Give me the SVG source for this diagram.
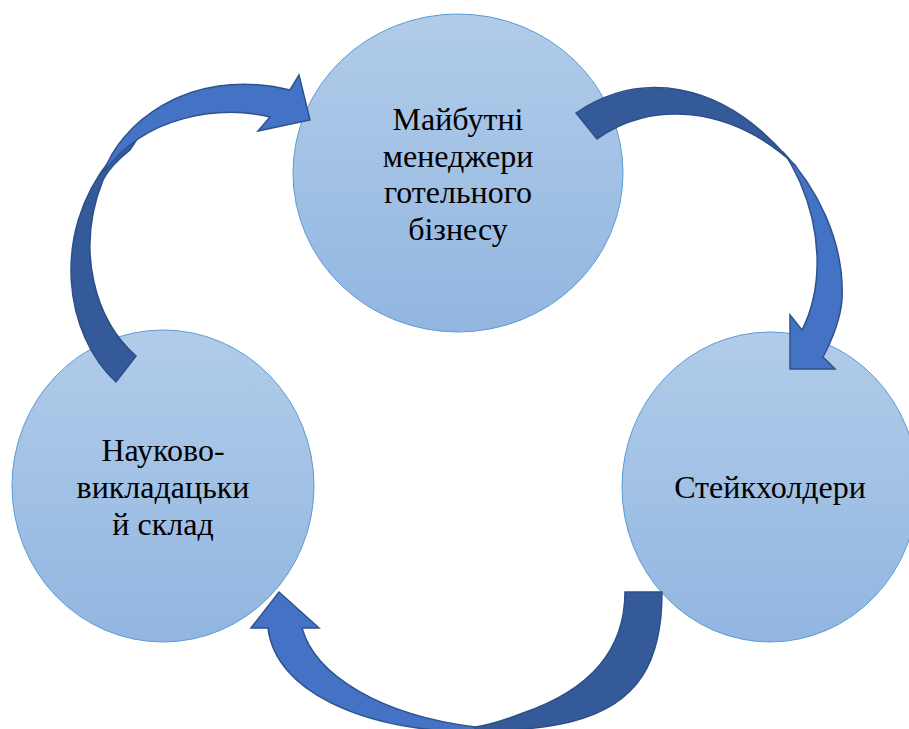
<svg xmlns="http://www.w3.org/2000/svg" width="909" height="729" viewBox="0 0 909 729">
<defs>
<linearGradient id="cg" x1="0" y1="0" x2="0" y2="1">
<stop offset="0" stop-color="#b1cce9"/>
<stop offset="1" stop-color="#92b6e1"/>
</linearGradient>
</defs>
<style>
.node{fill:url(#cg);stroke:#5b9bd5;stroke-width:1}
.lbl{font-family:"Liberation Serif","Times New Roman",serif;font-size:32px;fill:#000;text-anchor:middle}
.dark{fill:#345a99;stroke:#2c4f8a;stroke-width:1.5;stroke-linejoin:miter}
.light{fill:#4472c4;stroke:#2f528f;stroke-width:1.5;stroke-linejoin:miter}
</style>
<rect width="909" height="729" fill="#fff"/>
<g id="node-top">
<ellipse class="node" cx="458" cy="173" rx="165" ry="159"/>
<text class="lbl" x="458" y="130">Майбутні</text>
<text class="lbl" x="458" y="167">менеджери</text>
<text class="lbl" x="458" y="203">готельного</text>
<text class="lbl" x="458" y="240">бізнесу</text>
</g>
<g id="node-right">
<ellipse class="node" cx="770" cy="487" rx="148" ry="155"/>
<text class="lbl" x="770" y="498">Стейкхолдери</text>
</g>
<g id="node-left">
<ellipse class="node" cx="163" cy="486" rx="151" ry="156"/>
<text class="lbl" x="163" y="461">Науково-</text>
<text class="lbl" x="163" y="498">викладацьки</text>
<text class="lbl" x="163" y="535">й склад</text>
</g>
<g id="connectors">
<g id="arrow-left">
<path class="dark" d="M116,382 C65,335 50,235 110,160 C120,148 132,136 145,127 L130,150 C115,162 108,170 103,180 C75,250 95,320 136,356 Z"/>
<path class="light" d="M104,172 C118,128 185,65 290,90 L299,75 L310,120 L258,131 L270,117 C220,105 145,115 104,172 Z"/>
</g>
<g id="arrow-right">
<path class="dark" d="M576,113 C640,70 720,80 787,157 L802,178 L795,165 C730,105 650,100 597,139 Z"/>
<path class="light" d="M783,152 C815,185 845,240 842,300 C840,322 832,340 823,357 L835,369 L790,369 L790,315 L802,330 C820,295 825,240 800,182 C795,172 790,160 783,152 Z"/>
</g>
<g id="arrow-bottom">
<path class="dark" d="M625,592 L662,592 C662,660 640,705 570,722 C540,729 500,732 455,733 L455,729 C480,728 500,722 523,713 C590,690 625,650 625,592 Z"/>
<path class="light" d="M475,732 C360,731 275,690 268,628 L251,628 L279,592 L319,628 L302,628 C315,675 380,715 475,727 Z"/>
</g>
</g>
</svg>
